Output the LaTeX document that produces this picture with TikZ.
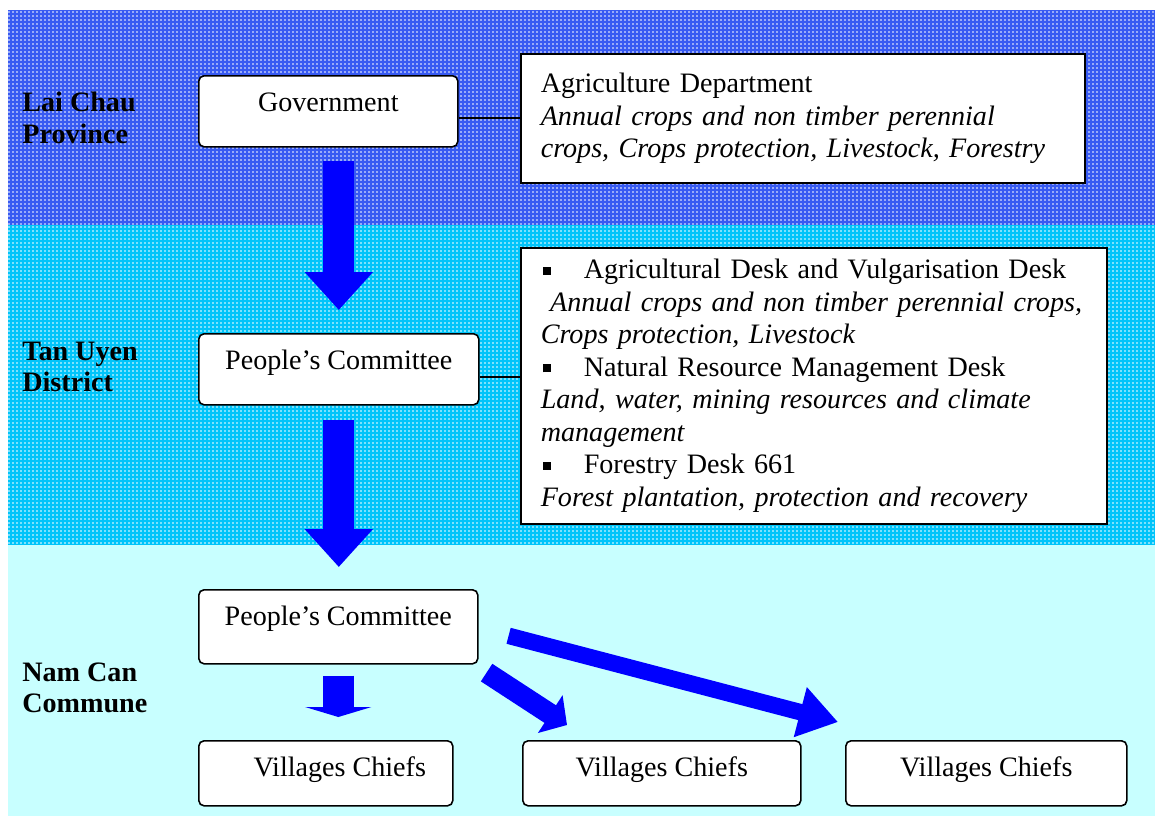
\documentclass[tikz,border=0pt]{standalone}
\usepackage{fontspec}
\setmainfont{Liberation Serif}
\usetikzlibrary{arrows.meta,positioning,calc,patterns.meta}

\definecolor{provblue}{RGB}{55,90,242}
\definecolor{distcyan}{RGB}{0,196,250}
\definecolor{commcyan}{RGB}{200,255,255}

% fine white dot texture of the two upper bands
\pgfdeclarepattern{name=weavedots, type=uncolored,
  bottom left={\pgfpoint{0pt}{0pt}}, top right={\pgfpoint{2.27pt}{2.27pt}},
  tile size={\pgfpoint{2.27pt}{2.27pt}},
  code={\pgfpathcircle{\pgfpoint{1.13pt}{1.13pt}}{0.5pt}\pgfusepath{fill}}}

\newcommand{\deskbullet}{\makebox[8.6mm][l]{\hspace{0.4mm}\rule[2.2pt]{1.6mm}{1.6mm}}}

\tikzset{
  unitbox/.style={draw, line width=0.9pt, fill=white, rounded corners=3pt,
    inner sep=0pt, text height=7.2mm, text depth=#1, anchor=north west},
  infobox/.style={draw, line width=0.9pt, fill=white, align=left,
    inner xsep=4mm, inner ysep=0pt, anchor=north west},
  levellabel/.style={font=\fontsize{16pt}{18pt}\selectfont\bfseries,
    align=left, anchor=west, inner sep=0pt},
  link/.style={line width=0.8pt},
  bigarrow/.style={blue, line width=6.2mm, -{Triangle[length=7.6mm,width=13.2mm]}},
}

\begin{document}
\begin{tikzpicture}[x=0.2mm, y=-0.2mm, font=\fontsize{16pt}{18.5pt}\selectfont]
\useasboundingbox (0,0) rectangle (1155,816);

% bands
\fill[provblue] (8,10) rectangle (1155,225);
\fill[pattern=weavedots, pattern color=white] (8,10) rectangle (1155,225);
\fill[distcyan] (8,225) rectangle (1155,545);
\fill[pattern=weavedots, pattern color=white] (8,225) rectangle (1155,545);
\fill[commcyan] (8,545) rectangle (1155,816);

% level names
\node[levellabel] (lai) at (22,118) {Lai Chau\\Province};
\node[levellabel] (tan) at (22,367) {Tan Uyen\\District};
\node[levellabel] (nam) at (22,688) {Nam Can\\Commune};

% province
\node[unitbox=7.0mm, minimum width=51.8mm] (gov) at (198,75) {Government};
\node[infobox, text width=104.8mm, minimum height=25.8mm] (agri) at (520,53)
  {Agriculture Department\\
   \textit{Annual crops and non timber perennial}\\
   \textit{crops, Crops protection, Livestock, Forestry}};

% district
\node[unitbox=7.0mm, minimum width=56mm] (dist) at (198,333) {People's Committee};
\node[infobox, text width=109.2mm, minimum height=55.2mm] (desk) at (520,247)
  {\deskbullet Agricultural Desk and Vulgarisation Desk\\
   \textit{\ Annual crops and non timber perennial crops,}\\
   \textit{Crops protection, Livestock}\\
   \deskbullet Natural Resource Management Desk\\
   \textit{Land, water, mining resources and climate}\\
   \textit{management}\\
   \deskbullet Forestry Desk 661\\
   \textit{Forest plantation, protection and recovery}};

% commune
\node[unitbox=7.6mm, minimum width=55.8mm] (comm) at (198,589) {People's Committee};
\node[unitbox=5.8mm, minimum width=50.8mm] (vil1) at (198,740) {\hspace*{5.6mm}Villages Chiefs};
\node[unitbox=5.8mm, minimum width=55.6mm] (vil2) at (522,740) {Villages Chiefs};
\node[unitbox=5.8mm, minimum width=56.2mm] (vil3) at (845,740) {Villages Chiefs};

% links
\draw[link] ([yshift=-1.3mm]gov.east) -- ([yshift=-1.3mm]gov.east -| agri.west);
\draw[link] ([yshift=-1.5mm]dist.east) -- ([yshift=-1.5mm]dist.east -| desk.west);

% arrows
\draw[bigarrow, shorten <=2.6mm, shorten >=4.6mm] (gov.south -| dist.north) -- (dist.north);
\draw[bigarrow, shorten <=2.8mm, shorten >=4.4mm] (dist.south) -- (dist.south |- comm.north);
\draw[blue, line width=6.2mm, -{Triangle[length=2mm,width=13.2mm]},
  shorten <=2.2mm, shorten >=4.6mm] (comm.south) -- (comm.south |- vil1.north);
\draw[blue, line width=4.2mm, -{Triangle[length=4mm,width=8.8mm]}]
  ($(comm.south east)+(8,8)$) -- ($(vil2.north west)+(45,-15)$);
\draw[blue, line width=3.3mm, -{Triangle[length=7.8mm,width=9.8mm]}]
  ($(comm.east)+(30,9)$) -- ($(vil3.north west)+(-7,-18)$);
\end{tikzpicture}
\end{document}
